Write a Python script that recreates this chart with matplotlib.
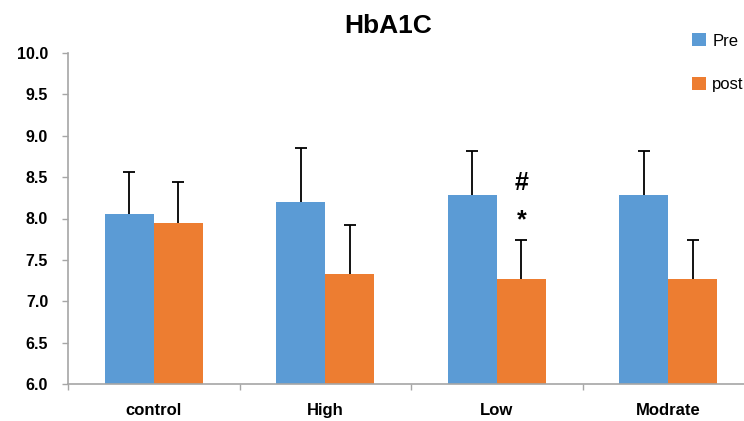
import numpy as np
import matplotlib.pyplot as plt
from matplotlib.ticker import FixedLocator

plt.rcParams['font.family'] = ['Liberation Sans', 'DejaVu Sans']

groups = ['control', 'High', 'Low', 'Modrate']
pre = [8.05, 8.20, 8.28, 8.28]
pre_err = [0.51, 0.65, 0.53, 0.53]
post = [7.95, 7.33, 7.27, 7.27]
post_err = [0.49, 0.59, 0.47, 0.47]

blue = '#5B9BD5'
orange = '#ED7D31'
grey = '#A6A6A6'

fig = plt.figure(figsize=(7.44, 4.21), dpi=100)
ax = fig.add_axes([68 / 744, 37 / 421, 686 / 744, 331 / 421])

x = np.arange(len(groups))
w = 0.286
ekw = dict(ecolor='black', elinewidth=1.3, capsize=4.5, capthick=1.3)
b1 = ax.bar(x - w / 2, pre, w, color=blue, label='Pre',
            yerr=[np.zeros(4), pre_err], error_kw=ekw, zorder=2)
b2 = ax.bar(x + w / 2, post, w, color=orange, label='post',
            yerr=[np.zeros(4), post_err], error_kw=ekw, zorder=2)
# only the upper half of the error bars is shown
for b in (b1, b2):
    b.errorbar.lines[1][0].set_visible(False)

# significance marks on Low / post
ax.text(2 + w / 2, 8.43, '#', ha='center', va='center', fontsize=18, fontweight='bold')
ax.text(2 + w / 2, 7.98, '*', ha='center', va='center', fontsize=18, fontweight='bold')

ax.set_xlim(-0.5, 3.5)
ax.set_ylim(6.0, 10.0)
ax.set_yticks(np.arange(6.0, 10.01, 0.5))
ax.set_yticklabels(['%.1f' % v for v in np.arange(6.0, 10.01, 0.5)],
                   fontsize=11.5, fontweight='bold')
ax.set_xticks(x)
ax.set_xticklabels(groups, fontsize=12, fontweight='bold')
ax.xaxis.set_minor_locator(FixedLocator([-0.5, 0.5, 1.5, 2.5, 3.5]))
ax.tick_params(axis='x', which='major', length=0, pad=14)
ax.tick_params(axis='x', which='minor', length=4.3, color=grey, width=1)
ax.tick_params(axis='y', length=4.3, color=grey, width=1, pad=10)

for s in ['top', 'right']:
    ax.spines[s].set_visible(False)
for s in ['left', 'bottom']:
    ax.spines[s].set_color(grey)
    ax.spines[s].set_linewidth(1.2)

fig.text(388 / 744, 1 - 26 / 421, 'HbA1C', ha='center', va='center',
         fontsize=19, fontweight='bold')

fig.legend(loc='upper left', bbox_to_anchor=(689 / 744, 1 - 30 / 421),
           frameon=False, fontsize=12, handlelength=0.8, handleheight=0.8,
           handletextpad=0.4, labelspacing=1.7, borderaxespad=0, borderpad=0.2)

fig.savefig('out.png', dpi=100)
